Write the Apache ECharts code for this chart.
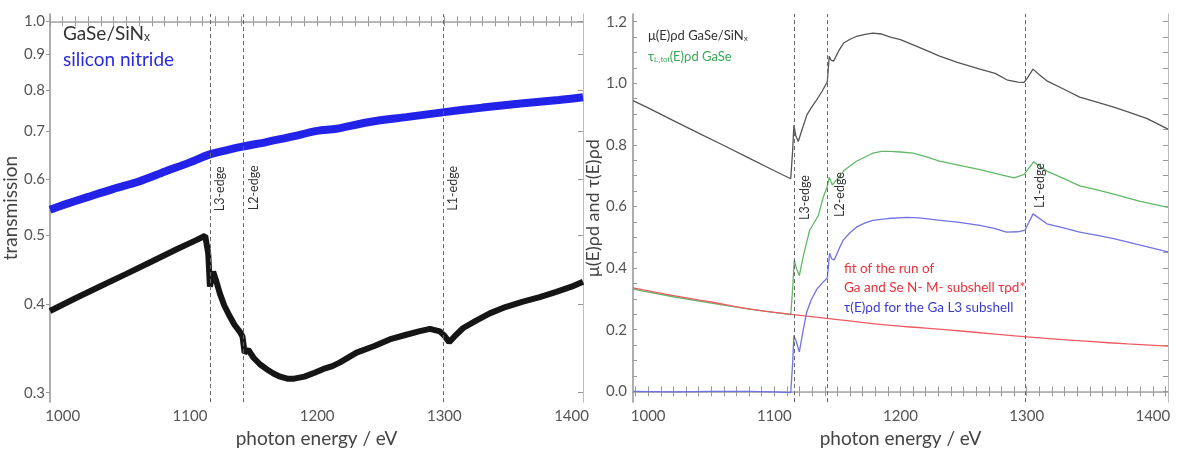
<!DOCTYPE html>
<html>
<head>
<meta charset="UTF-8">
<title>GaSe/SiNx absorption edges</title>
<script src="https://cdn.jsdelivr.net/npm/echarts@6/dist/echarts.min.js"></script>
<style>
body { margin: 0; background: #fff; }
#chart { width: 1182px; height: 453px; }
</style>
</head>
<body>
<div id="chart"></div>
<script>
// values, [photon energy eV, value]
var siliconNitride = [[990,0.543],[1000,0.551],[1020,0.566],[1040,0.581],[1060,0.595],[1080,0.614],[1100,0.633],
  [1115,0.649],[1130,0.659],[1141,0.666],[1160,0.676],[1180,0.688],[1200,0.701],[1215,0.706],[1240,0.721],
  [1270,0.733],[1300,0.745],[1330,0.756],[1360,0.766],[1390,0.775],[1409,0.782]];

var gaseSiN = [[990,0.391],[1010,0.4075],[1030,0.424],[1050,0.441],[1070,0.459],[1090,0.478],[1105,0.492],[1112,0.499],
  [1114.4,0.471],[1115.7,0.423],[1118.3,0.444],[1120.5,0.432],[1123.5,0.414],[1127,0.398],[1131.4,0.384],[1135,0.374],
  [1139,0.366],[1141.3,0.360],[1143,0.3415],[1145.8,0.345],[1150,0.336],[1155,0.329],[1160,0.324],[1166,0.319],
  [1171,0.316],[1176.5,0.314],[1182,0.314],[1190,0.316],[1198,0.320],[1205,0.324],[1212,0.327],[1218,0.331],
  [1231,0.3416],[1245,0.349],[1257,0.3565],[1270,0.362],[1280,0.366],[1288.6,0.369],[1296.5,0.366],[1300,0.361],
  [1303.8,0.3535],[1308,0.360],[1314.8,0.370],[1325,0.379],[1335.7,0.388],[1348,0.396],[1361.8,0.403],[1375,0.409],
  [1388,0.416],[1400,0.423],[1409,0.430]];

var muGaseSiN = [[988,0.944],[1000,0.920],[1020,0.879],[1040,0.838],[1060,0.798],[1080,0.757],[1100,0.716],[1113,0.690],
  [1114.5,0.78],[1115.5,0.864],[1117,0.83],[1119,0.811],[1122,0.85],[1126,0.899],[1130,0.925],[1134,0.949],[1138,0.975],
  [1142,1.005],[1143.5,1.088],[1145,1.075],[1147,1.072],[1151,1.105],[1155,1.131],[1160,1.143],[1165,1.152],[1172,1.159],
  [1178,1.163],[1185,1.160],[1192,1.150],[1200,1.142],[1210,1.125],[1220,1.108],[1231,1.088],[1245,1.068],[1263,1.046],
  [1275,1.032],[1285,1.010],[1293,1.004],[1298,1.003],[1301,1.02],[1305,1.046],[1310,1.028],[1316,1.008],[1330,0.98],
  [1342,0.955],[1355,0.94],[1369,0.923],[1382,0.905],[1395,0.886],[1405,0.866],[1412,0.851]];

var tauLtotGaSe = [[988,0.332],[1020,0.307],[1050,0.286],[1080,0.267],[1100,0.256],[1113,0.249],[1114.5,0.33],
  [1115.8,0.427],[1117.5,0.40],[1119.8,0.376],[1123,0.44],[1128,0.523],[1134.8,0.57],[1138.7,0.629],[1142,0.665],
  [1143.5,0.695],[1146,0.67],[1150,0.69],[1155,0.716],[1165,0.747],[1178,0.773],[1185,0.779],[1192,0.779],[1200,0.777],
  [1210,0.773],[1220,0.762],[1231,0.747],[1245,0.735],[1263,0.720],[1280,0.703],[1290,0.693],[1298,0.704],[1305.5,0.745],
  [1316,0.715],[1330,0.69],[1342,0.667],[1355,0.655],[1369,0.640],[1390,0.617],[1412,0.597]];

var tauGaL3 = [[988,0.0],[1020,-0.002],[1050,0.0],[1080,0.0],[1100,-0.002],[1113,-0.004],[1114.5,0.09],[1115.5,0.181],
  [1117.5,0.16],[1119.8,0.128],[1122.5,0.19],[1125.6,0.256],[1129,0.295],[1133.6,0.331],[1138,0.352],[1142,0.368],
  [1143.8,0.448],[1145.5,0.43],[1147.6,0.427],[1151,0.46],[1154.6,0.491],[1160,0.515],[1165,0.533],[1172,0.547],
  [1178,0.555],[1190,0.561],[1205,0.565],[1215,0.563],[1230,0.556],[1245,0.549],[1263,0.539],[1275,0.528],[1284,0.517],
  [1293,0.518],[1298.7,0.523],[1305,0.576],[1316,0.544],[1330,0.53],[1342,0.517],[1355,0.507],[1369,0.496],[1390,0.475],
  [1412,0.453]];

var fitNM = [[988,0.336],[1020,0.311],[1050,0.290],[1080,0.268],[1115,0.249],[1150,0.233],[1190,0.215],[1220,0.205],
  [1250,0.195],[1300,0.177],[1350,0.162],[1380,0.154],[1412,0.147]];

var edgeEnergies = [1116, 1142, 1299];
var edgeNames = ['L3-edge', 'L2-edge', 'L1-edge'];
var energyLabels = [1000, 1100, 1200, 1300, 1400];
var transLabels = [0.3, 0.4, 0.5, 0.6, 0.7, 0.8, 0.9, 1.0];
var muLabels = [0, 0.2, 0.4, 0.6, 0.8, 1.0, 1.2];

var FONT = 'Lato, "DejaVu Sans", sans-serif';
var lg = function (v) { return Math.log10(v); };

var energyTicks = [];
for (var e = 990; e <= 1410; e += 10) energyTicks.push(e);
var muTicks = [];
for (var m = 0; m <= 24; m++) muTicks.push(+(m * 0.05).toFixed(2));

function xAx(grid, pos, min, max, main) {
    return {
        type: 'value', gridIndex: grid, position: pos, min: min, max: max,
        splitLine: { show: false },
        axisLine: { show: true, lineStyle: { color: main ? '#9a9a9a' : '#bdbdbd', width: main ? 1.6 : 1 } },
        axisTick: { show: true, inside: true, length: 5, customValues: energyTicks, lineStyle: { color: '#999' } },
        axisLabel: { show: main, customValues: energyLabels, fontSize: 15, color: '#555', fontFamily: FONT, margin: 7,
            formatter: function (v) { return String(v); } },
        name: main ? 'photon energy / eV' : '', nameLocation: 'middle', nameGap: 22,
        nameTextStyle: { fontSize: 19, color: '#444', fontFamily: FONT }
    };
}

// edge labels sit just right of the dashed lines, reading bottom to top
var edgeLabel = { show: true, position: 'inside', formatter: '{b}', rotate: 90, color: '#333', fontSize: 12.5 };

var option = {
    animation: false,
    textStyle: { fontFamily: FONT },
    grid: [
        { left: 49, top: 14, width: 534, height: 393 },
        { left: 633, top: 14, width: 535, height: 394 }
    ],
    xAxis: [
        xAx(0, 'bottom', 990, 1409, true),
        xAx(0, 'top', 990, 1409, false),
        xAx(1, 'bottom', 988, 1412, true),
        xAx(1, 'top', 988, 1412, false)
    ],
    yAxis: [
        {
            type: 'value', gridIndex: 0, position: 'left', min: lg(0.291), max: lg(1.024),
            splitLine: { show: false },
            axisLine: { show: true, lineStyle: { color: '#9a9a9a', width: 1.6 } },
            axisTick: { show: true, length: 4, customValues: transLabels.map(lg), lineStyle: { color: '#999' } },
            axisLabel: { customValues: transLabels.map(lg), fontSize: 15, color: '#555', margin: 5,
                formatter: function (v) { return Math.pow(10, v).toFixed(1); } },
            name: 'transmission', nameLocation: 'middle', nameGap: 30,
            nameTextStyle: { fontSize: 19, color: '#444', fontFamily: FONT }
        },
        {
            type: 'value', gridIndex: 0, position: 'right', min: lg(0.291), max: lg(1.024),
            splitLine: { show: false },
            axisLine: { show: true, lineStyle: { color: '#bdbdbd', width: 1 } },
            axisTick: { show: true, inside: true, length: 5, customValues: transLabels.map(lg), lineStyle: { color: '#999' } },
            axisLabel: { show: false }
        },
        {
            type: 'value', gridIndex: 1, position: 'left', min: -0.035, max: 1.225,
            splitLine: { show: false },
            axisLine: { show: true, lineStyle: { color: '#9a9a9a', width: 1.6 } },
            axisTick: { show: true, inside: true, length: 4, customValues: muTicks, lineStyle: { color: '#999' } },
            axisLabel: { customValues: muLabels, fontSize: 15, color: '#555', margin: 6,
                formatter: function (v) { return v.toFixed(1); } },
            name: 'μ(E)ρd and τ(E)ρd', nameLocation: 'middle', nameGap: 30,
            nameTextStyle: { fontSize: 18, color: '#444', fontFamily: FONT }
        },
        {
            type: 'value', gridIndex: 1, position: 'right', min: -0.035, max: 1.225,
            splitLine: { show: false },
            axisLine: { show: true, lineStyle: { color: '#bdbdbd', width: 1 } },
            axisTick: { show: true, inside: true, length: 5, customValues: muTicks, lineStyle: { color: '#999' } },
            axisLabel: { show: false }
        }
    ],
    series: [
        {
            name: 'silicon nitride', type: 'line', xAxisIndex: 0, yAxisIndex: 0, showSymbol: false,
            data: siliconNitride.map(function (p) { return [p[0], lg(p[1])]; }),
            smooth: 0.3, lineStyle: { color: '#2222e8', width: 8 }, z: 3
        },
        {
            name: 'GaSe/SiNx', type: 'line', xAxisIndex: 0, yAxisIndex: 0, showSymbol: false,
            data: gaseSiN.map(function (p) { return [p[0], lg(p[1])]; }),
            lineStyle: { color: '#151515', width: 6 }, z: 3,
            markLine: {
                silent: true, symbol: ['none', 'none'], label: { show: false },
                lineStyle: { type: [4, 3], color: '#666', width: 1 },
                data: edgeEnergies.map(function (e) { return { xAxis: e }; })
            },
            markPoint: {
                symbol: 'rect', symbolSize: 1, itemStyle: { color: 'rgba(0,0,0,0)' },
                label: edgeLabel,
                data: [
                    { name: edgeNames[0], coord: [1123.5, lg(0.581)] },
                    { name: edgeNames[1], coord: [1150, lg(0.583)] },
                    { name: edgeNames[2], coord: [1307, lg(0.582)] }
                ]
            }
        },
        {
            name: 'τL,tot(E)ρd GaSe', type: 'line', xAxisIndex: 2, yAxisIndex: 2, showSymbol: false,
            data: tauLtotGaSe, lineStyle: { color: '#62b866', width: 1.3 }
        },
        {
            name: 'fit', type: 'line', xAxisIndex: 2, yAxisIndex: 2, showSymbol: false,
            data: fitNM, smooth: true, lineStyle: { color: '#ef5a63', width: 1.3 }
        },
        {
            name: 'τ(E)ρd Ga L3', type: 'line', xAxisIndex: 2, yAxisIndex: 2, showSymbol: false,
            data: tauGaL3, lineStyle: { color: '#7272e4', width: 1.3 }
        },
        {
            name: 'μ(E)ρd GaSe/SiNx', type: 'line', xAxisIndex: 2, yAxisIndex: 2, showSymbol: false,
            data: muGaseSiN, lineStyle: { color: '#555', width: 1.3 },
            markLine: {
                silent: true, symbol: ['none', 'none'], label: { show: false },
                lineStyle: { type: [4, 3], color: '#666', width: 1 },
                data: edgeEnergies.map(function (e) { return { xAxis: e }; })
            },
            markPoint: {
                symbol: 'rect', symbolSize: 1, itemStyle: { color: 'rgba(0,0,0,0)' },
                label: edgeLabel,
                data: [
                    { name: edgeNames[0], coord: [1124.2, 0.629] },
                    { name: edgeNames[1], coord: [1152, 0.639] },
                    { name: edgeNames[2], coord: [1310.6, 0.668] }
                ]
            }
        }
    ],
    graphic: [
        { type: 'text', left: 63, top: 24, style: { text: 'GaSe/SiN{s|x}', fill: '#333', font: '19px ' + FONT,
            rich: { s: { fontSize: 12, fill: '#333', padding: [9, 0, 0, 0] } } } },
        { type: 'text', left: 63, top: 50, style: { text: 'silicon nitride', fill: '#2a2ae0', font: '19px ' + FONT } },
        { type: 'text', left: 648, top: 29, style: { text: 'μ(E)ρd GaSe/SiN{s|x}', fill: '#333', font: '13px ' + FONT,
            rich: { s: { fontSize: 8, fill: '#333', padding: [6, 0, 0, 0] } } } },
        { type: 'text', left: 648, top: 50, style: { text: 'τ{s|L,tot}(E)ρd GaSe', fill: '#3aa955', font: '13px ' + FONT,
            rich: { s: { fontSize: 8, fill: '#3aa955', padding: [6, 0, 0, 0] } } } },
        { type: 'text', left: 844, top: 262, style: { text: 'fit of the run of', fill: '#e8343c', font: '13.5px ' + FONT } },
        { type: 'text', left: 844, top: 281, style: { text: 'Ga and Se N- M- subshell τρd*', fill: '#e8343c', font: '13.5px ' + FONT } },
        { type: 'text', left: 844, top: 301, style: { text: 'τ(E)ρd for the Ga L3 subshell', fill: '#3b3bd0', font: '13.5px ' + FONT } }
    ]
};

var chart = echarts.init(document.getElementById('chart'));
chart.setOption(option);
</script>
</body>
</html>
